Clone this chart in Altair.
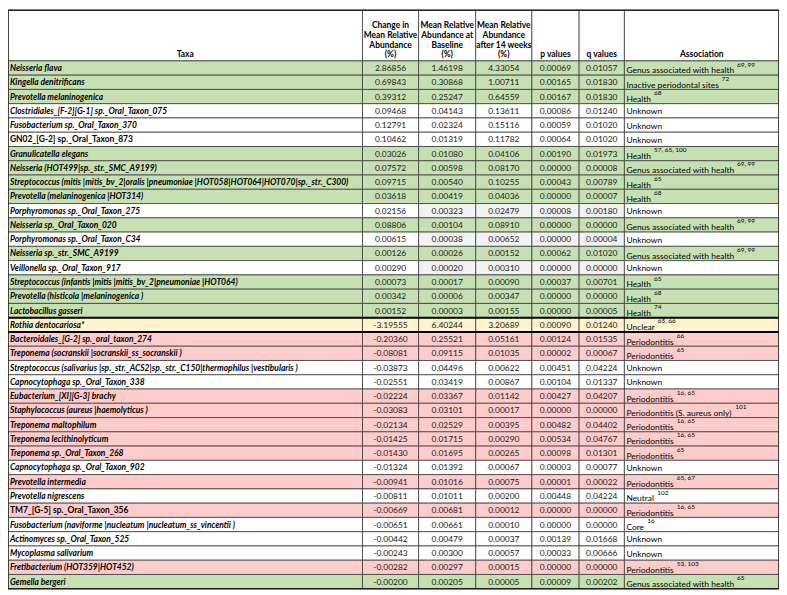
import altair as alt
import pandas as pd

# ---------------- data ----------------
taxa = [
    "Neisseria flava", "Kingella denitrificans", "Prevotella melaninogenica",
    "Clostridiales_[F-2][G-1] sp._Oral_Taxon_075", "Fusobacterium sp._Oral_Taxon_370",
    "GN02_[G-2] sp._Oral_Taxon_873", "Granulicatella elegans",
    "Neisseria  (HOT499|sp._str._SMC_A9199)",
    "Streptococcus  (mitis |mitis_bv_2|oralis |pneumoniae |HOT058|HOT064|HOT070|sp._str._C300)",
    "Prevotella  (melaninogenica |HOT314)", "Porphyromonas sp._Oral_Taxon_275",
    "Neisseria sp._Oral_Taxon_020", "Porphyromonas sp._Oral_Taxon_C34",
    "Neisseria sp._str._SMC_A9199", "Veillonella sp._Oral_Taxon_917",
    "Streptococcus  (infantis |mitis |mitis_bv_2|pneumoniae |HOT064)",
    "Prevotella  (histicola |melaninogenica )", "Lactobacillus gasseri",
    "Rothia dentocariosa*", "Bacteroidales_[G-2] sp._oral_taxon_274",
    "Treponema  (socranskii |socranskii_ss_socranskii )",
    "Streptococcus  (salivarius |sp._str._ACS2|sp._str._C150|thermophilus |vestibularis )",
    "Capnocytophaga sp._Oral_Taxon_338", "Eubacterium_[XI][G-3] brachy",
    "Staphylococcus  (aureus |haemolyticus )", "Treponema maltophilum",
    "Treponema lecithinolyticum", "Treponema sp._Oral_Taxon_268",
    "Capnocytophaga sp._Oral_Taxon_902", "Prevotella intermedia",
    "Prevotella nigrescens", "TM7_[G-5] sp._Oral_Taxon_356",
    "Fusobacterium  (naviforme |nucleatum |nucleatum_ss_vincentii )",
    "Actinomyces sp._Oral_Taxon_525", "Mycoplasma salivarium",
    "Fretibacterium  (HOT359|HOT452)", "Gemella bergeri",
]
italic = [True] * len(taxa)
italic[5] = False   # GN02
italic[31] = False  # TM7

change = [2.86856, 0.69843, 0.39312, 0.09468, 0.12791, 0.10462, 0.03026, 0.07572,
          0.09715, 0.03618, 0.02156, 0.08806, 0.00615, 0.00126, 0.00290, 0.00073,
          0.00342, 0.00152, -3.19555, -0.20360, -0.08081, -0.03873, -0.02551,
          -0.02224, -0.03083, -0.02134, -0.01425, -0.01430, -0.01324, -0.00941,
          -0.00811, -0.00669, -0.00651, -0.00442, -0.00243, -0.00282, -0.00200]
baseline = [1.46198, 0.30868, 0.25247, 0.04143, 0.02324, 0.01319, 0.01080, 0.00598,
            0.00540, 0.00419, 0.00323, 0.00104, 0.00038, 0.00026, 0.00020, 0.00017,
            0.00006, 0.00003, 6.40244, 0.25521, 0.09115, 0.04496, 0.03419, 0.03367,
            0.03101, 0.02529, 0.01715, 0.01695, 0.01392, 0.01016, 0.01011, 0.00681,
            0.00661, 0.00479, 0.00300, 0.00297, 0.00205]
after = [4.33054, 1.00711, 0.64559, 0.13611, 0.15116, 0.11782, 0.04106, 0.08170,
         0.10255, 0.04036, 0.02479, 0.08910, 0.00652, 0.00152, 0.00310, 0.00090,
         0.00347, 0.00155, 3.20689, 0.05161, 0.01035, 0.00622, 0.00867, 0.01142,
         0.00017, 0.00395, 0.00290, 0.00265, 0.00067, 0.00075, 0.00200, 0.00012,
         0.00010, 0.00037, 0.00057, 0.00015, 0.00005]
pvals = [0.00069, 0.00165, 0.00167, 0.00086, 0.00059, 0.00064, 0.00190, 0.00000,
         0.00043, 0.00000, 0.00008, 0.00000, 0.00000, 0.00062, 0.00000, 0.00037,
         0.00000, 0.00000, 0.00090, 0.00124, 0.00002, 0.00451, 0.00104, 0.00427,
         0.00000, 0.00482, 0.00534, 0.00098, 0.00003, 0.00001, 0.00448, 0.00000,
         0.00000, 0.00139, 0.00033, 0.00000, 0.00009]
qvals = [0.01057, 0.01830, 0.01830, 0.01240, 0.01020, 0.01020, 0.01973, 0.00008,
         0.00789, 0.00007, 0.00180, 0.00000, 0.00004, 0.01020, 0.00000, 0.00701,
         0.00000, 0.00005, 0.01240, 0.01535, 0.00067, 0.04224, 0.01337, 0.04207,
         0.00000, 0.04402, 0.04767, 0.01301, 0.00077, 0.00022, 0.04224, 0.00000,
         0.00000, 0.01668, 0.00666, 0.00000, 0.00202]

GAH = "Genus associated with health"
assoc = [GAH, "Inactive periodontal sites", "Health", "Unknown", "Unknown", "Unknown",
         "Health", GAH, "Health", "Health", "Unknown", GAH, "Unknown", GAH, "Unknown",
         "Health", "Health", "Health", "Unclear", "Periodontitis", "Periodontitis",
         "Unknown", "Unknown", "Periodontitis", "Periodontitis (S. aureus only)",
         "Periodontitis", "Periodontitis", "Periodontitis", "Unknown", "Periodontitis",
         "Neutral", "Periodontitis", "Core", "Unknown", "Unknown", "Periodontitis", GAH]
refs = ["69, 99", "72", "68", "", "", "", "57, 65, 100", "69, 99", "65", "68", "",
        "69, 99", "", "69, 99", "", "65", "68", "74", "65, 66", "66", "65", "", "",
        "16, 65", "101", "16, 65", "16, 65", "65", "", "65, 67", "102", "16, 65", "16",
        "", "", "53, 103", "65"]
# row colour group: g green, w white, s white with grey value cells, y yellow, p pink
group = ["g", "g", "g", "w", "w", "w", "g", "g", "g", "g", "s", "g", "s", "g", "s",
         "g", "g", "g", "y", "p", "p", "w", "w", "p", "p", "p", "p", "p", "w", "p",
         "w", "p", "w", "w", "w", "p", "g"]

headers = ["Taxa", "Change in\nMean Relative\nAbundance\n(%)",
           "Mean Relative\nAbundance at\nBaseline\n(%)",
           "Mean Relative\nAbundance\nafter 14 weeks\n(%)",
           "p values", "q values", "Association"]

# ---------------- layout ----------------
col_edges = [2, 362, 419, 477, 534, 582, 628, 785]
N = len(taxa)
HEADER = 3.55
W, H = 777, 583
fills = {"g": "#C6E0B4", "w": "#FFFFFF", "s": "#FFFFFF", "y": "#FFF2CC", "p": "#FFCCCC"}
FONT = "Lato, Liberation Sans, sans-serif"
ASSOC_SIZE = 8.5

# approximate Lato Regular advance widths (em) to place the superscript references
_W = {" ": .19, "(": .30, ")": .30, ".": .22, "C": .66, "G": .71, "H": .75, "I": .29,
      "N": .75, "P": .58, "S": .53, "U": .71, "a": .47, "c": .44, "d": .55, "e": .51,
      "g": .49, "h": .55, "i": .23, "k": .49, "l": .23, "n": .55, "o": .55, "p": .55,
      "r": .35, "s": .41, "t": .34, "u": .55, "v": .50, "w": .76, "y": .50}


def text_width(s, size):
    return sum(_W.get(ch, .52) for ch in s) * size * 1.05


xs = alt.Scale(domain=[col_edges[0], col_edges[-1]], range=[0, W])
ys = alt.Scale(domain=[-HEADER, N], range=[0, H])
PX = (col_edges[-1] - col_edges[0]) / W  # data units per pixel

cells = []
for c in range(7):
    cells.append(dict(x0=col_edges[c], x1=col_edges[c + 1], y0=-HEADER, y1=0, fill="#FFFFFF"))
for r in range(N):
    for c in range(7):
        f = fills[group[r]]
        if group[r] == "s" and 2 <= c <= 5:
            f = "#F2F2F2"
        cells.append(dict(x0=col_edges[c], x1=col_edges[c + 1], y0=r, y1=r + 1, fill=f))
cells = pd.DataFrame(cells)

head_rows = []
for c, h in enumerate(headers):
    lines = h.split("\n")
    for k, line in enumerate(reversed(lines)):
        head_rows.append(dict(x=(col_edges[c] + col_edges[c + 1]) / 2,
                              y=-0.45 - k * 0.69, label=line))
head_df = pd.DataFrame(head_rows)

taxa_df = pd.DataFrame({
    "x": [col_edges[0] + 2] * N,
    "y": [r + 0.5 for r in range(N)],
    "label": taxa,
    "it": italic,
})

num_rows = []
for c, vals in zip(range(1, 6), [change, baseline, after, pvals, qvals]):
    for r in range(N):
        num_rows.append(dict(x=(col_edges[c] + col_edges[c + 1]) / 2, y=r + 0.5,
                             label=f"{vals[r]:.5f}"))
num_df = pd.DataFrame(num_rows)

assoc_df = pd.DataFrame({
    "x": [col_edges[6] + 2] * N,
    "y": [r + 0.5 for r in range(N)],
    "label": assoc,
    "hasref": [bool(x) for x in refs],
})

sup_df = pd.DataFrame([
    dict(x=col_edges[6] + 2 + (text_width(a, ASSOC_SIZE) + 2.5) * PX, y=r + 0.5, label=ref)
    for r, (a, ref) in enumerate(zip(assoc, refs)) if ref
])

thick_df = pd.DataFrame({"x0": [col_edges[0]] * 2, "x1": [col_edges[-1]] * 2, "y": [18, 19]})
border_df = pd.DataFrame({"x0": [col_edges[0]], "x1": [col_edges[-1]], "y0": [-HEADER], "y1": [N]})

rects = alt.Chart(cells).mark_rect(stroke="#3c3c3c", strokeWidth=0.8).encode(
    x=alt.X("x0:Q", scale=xs, axis=None), x2="x1",
    y=alt.Y("y0:Q", scale=ys, axis=None), y2="y1",
    color=alt.Color("fill:N", scale=None),
)

heads = alt.Chart(head_df).mark_text(
    font=FONT, fontSize=8.5, fontWeight="bold", baseline="middle", align="center",
).encode(x=alt.X("x:Q", scale=xs), y=alt.Y("y:Q", scale=ys), text="label:N")

taxa_it = alt.Chart(taxa_df[taxa_df["it"]]).mark_text(
    font=FONT, fontSize=8.5, fontWeight="bold", fontStyle="italic",
    baseline="middle", align="left",
).encode(x=alt.X("x:Q", scale=xs), y=alt.Y("y:Q", scale=ys), text="label:N")

taxa_up = alt.Chart(taxa_df[~taxa_df["it"]]).mark_text(
    font=FONT, fontSize=8.5, fontWeight="bold", baseline="middle", align="left",
).encode(x=alt.X("x:Q", scale=xs), y=alt.Y("y:Q", scale=ys), text="label:N")

nums = alt.Chart(num_df).mark_text(
    font=FONT, fontSize=8.5, baseline="middle", align="center", color="#1a1a1a",
).encode(x=alt.X("x:Q", scale=xs), y=alt.Y("y:Q", scale=ys), text="label:N")

assoc_ref = alt.Chart(assoc_df[assoc_df["hasref"]]).mark_text(
    font=FONT, fontSize=ASSOC_SIZE, baseline="middle", align="left", dy=2.5,
).encode(x=alt.X("x:Q", scale=xs), y=alt.Y("y:Q", scale=ys), text="label:N")

assoc_plain = alt.Chart(assoc_df[~assoc_df["hasref"]]).mark_text(
    font=FONT, fontSize=ASSOC_SIZE, baseline="middle", align="left", dy=0.5,
).encode(x=alt.X("x:Q", scale=xs), y=alt.Y("y:Q", scale=ys), text="label:N")

sups = alt.Chart(sup_df).mark_text(
    font=FONT, fontSize=6.5, baseline="middle", align="left", dy=-3.5,
).encode(x=alt.X("x:Q", scale=xs), y=alt.Y("y:Q", scale=ys), text="label:N")

thick = alt.Chart(thick_df).mark_rule(color="#000000", strokeWidth=2).encode(
    x=alt.X("x0:Q", scale=xs), x2="x1", y=alt.Y("y:Q", scale=ys))

border = alt.Chart(border_df).mark_rect(fill=None, stroke="#222222", strokeWidth=1.5).encode(
    x=alt.X("x0:Q", scale=xs), x2="x1", y=alt.Y("y0:Q", scale=ys), y2="y1")

chart = alt.layer(rects, thick, border, heads, taxa_it, taxa_up, nums,
                  assoc_ref, assoc_plain, sups).properties(
    width=W, height=H, autosize="none", padding=0,
).configure_view(stroke=None)

chart.save("out.html", embed_options={"renderer": "svg", "actions": False})
